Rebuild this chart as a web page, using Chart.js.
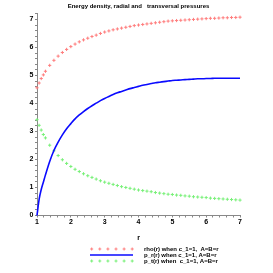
<!DOCTYPE html>
<html><head><meta charset="utf-8">
<script src="https://cdn.jsdelivr.net/npm/chart.js@4"></script>
<style>html,body{margin:0;padding:0;background:#fff}#wrap{width:273px;height:273px;position:relative}</style>
</head><body><div id="wrap"><canvas id="c" width="273" height="273"></canvas></div>
<script>
const rValues = [1.0,1.0625,1.125,1.1875,1.25,1.375,1.5,1.625,1.75,1.875,2.0,2.125,2.25,2.375,2.5,2.625,2.75,2.875,3.0,3.125,3.25,3.375,3.5,3.625,3.75,3.875,4.0,4.125,4.25,4.375,4.5,4.625,4.75,4.875,5.0,5.125,5.25,5.375,5.5,5.625,5.75,5.875,6.0,6.125,6.25,6.375,6.5,6.625,6.75,6.875,7.0];
const rhoValues = [4.56,4.73,4.89,5.02,5.15,5.36,5.54,5.69,5.82,5.93,6.03,6.12,6.2,6.27,6.33,6.39,6.44,6.5,6.55,6.59,6.63,6.66,6.69,6.72,6.75,6.78,6.8,6.82,6.84,6.86,6.88,6.9,6.92,6.94,6.95,6.96,6.97,6.98,6.99,7.0,7.01,7.02,7.03,7.04,7.04,7.05,7.06,7.06,7.07,7.07,7.08];
const prValues = [0,0.58,0.93,1.19,1.45,1.93,2.32,2.62,2.88,3.1,3.28,3.45,3.59,3.71,3.82,3.92,4.01,4.1,4.18,4.25,4.32,4.38,4.43,4.48,4.53,4.57,4.61,4.65,4.68,4.71,4.74,4.76,4.78,4.8,4.82,4.83,4.84,4.85,4.86,4.87,4.88,4.88,4.89,4.89,4.9,4.9,4.9,4.9,4.9,4.9,4.9];
const ptValues = [3.42,3.22,3.05,2.89,2.77,2.51,2.31,2.14,1.99,1.86,1.75,1.65,1.57,1.49,1.42,1.36,1.3,1.24,1.19,1.15,1.11,1.07,1.03,1.0,0.97,0.94,0.91,0.89,0.87,0.85,0.82,0.8,0.78,0.76,0.75,0.73,0.72,0.7,0.69,0.67,0.66,0.65,0.64,0.62,0.61,0.6,0.59,0.58,0.57,0.56,0.55];
const seriesLabels = ["rho(r) when c_1=1,  A=B=r", "p_r(r) when c_1=1, A=B=r", "p_t(r) when  c_1=1, A=B=r"];
const xTickLabels = [1,2,3,4,5,6,7];
const yTickLabels = [0,1,2,3,4,5,6,7];
const titleText = "Energy density, radial and   transversal pressures";
const xAxisTitle = "r";

const RED = 'rgb(255,125,125)';
const BLUE = 'rgb(10,10,255)';
const GREEN = 'rgb(120,240,120)';
const FONT = "'Liberation Sans Narrow','Arial Narrow','Liberation Sans',Arial,sans-serif";

function toXY(ys){ return rValues.map((r,i)=>({x:r,y:ys[i]})); }
function minorTicks(lo,hi){ const t=[]; for(let k=0;lo+k*0.2<=hi+1e-9;k++){ t.push({value:+(lo+k*0.2).toFixed(4)}); } return t; }
function intLabel(list){ return function(v){ const n=Math.round(v); return (Math.abs(v-n)<1e-6 && list.includes(n)) ? String(n) : ''; }; }

const legendPlugin = {
  id:'mapleLegend',
  afterDraw(chart){
    const ctx = chart.ctx;
    const ds = chart.data.datasets;
    const x0 = 90, x1 = 133, tx = 144;
    ctx.save();
    ds.forEach((d,i)=>{
      const y = 249 + 6*i;
      if (d.showLine) {
        ctx.strokeStyle = d.borderColor; ctx.lineWidth = 1.6;
        ctx.beginPath(); ctx.moveTo(x0,y); ctx.lineTo(x1,y); ctx.stroke();
      } else {
        ctx.strokeStyle = d.borderColor; ctx.lineWidth = 1;
        for (let k=0;k<6;k++){
          const cx = 91.7 + 8.1*k;
          ctx.beginPath(); ctx.moveTo(cx-1.5,y); ctx.lineTo(cx+1.5,y); ctx.moveTo(cx,y-1.5); ctx.lineTo(cx,y+1.5); ctx.stroke();
        }
      }
      ctx.fillStyle = '#000'; ctx.font = "bold 6px " + FONT; ctx.textBaseline = 'middle'; ctx.textAlign='left';
      ctx.fillText(d.label, tx, y);
    });
    ctx.restore();
  }
};

new Chart(document.getElementById('c'), {
  type:'scatter',
  data:{ datasets:[
    { label:seriesLabels[0], data:toXY(rhoValues), showLine:false, pointStyle:'cross', pointRadius:1.6, borderWidth:1, borderColor:RED, backgroundColor:RED, clip:5 },
    { label:seriesLabels[1], data:toXY(prValues), showLine:true, pointRadius:0, borderWidth:1.6, borderColor:BLUE, backgroundColor:BLUE, cubicInterpolationMode:'monotone', clip:5 },
    { label:seriesLabels[2], data:toXY(ptValues), showLine:false, pointStyle:'cross', pointRadius:1.6, borderWidth:1, borderColor:GREEN, backgroundColor:GREEN, clip:5 }
  ]},
  options:{
    responsive:false, animation:false, devicePixelRatio:1,
    layout:{ padding:{ top:0, left:0, right:33, bottom:0 } },
    plugins:{
      legend:{ display:false },
      tooltip:{ enabled:false },
      title:{ display:true, text:titleText, fullSize:false, color:'#000', font:{ family:FONT, size:6, weight:'bold', lineHeight:1 }, padding:{ top:3, bottom:4 } }
    },
    scales:{
      x:{ type:'linear', min:1, max:7,
        afterBuildTicks(s){ s.ticks = minorTicks(1,7); },
        afterFit(s){ s.height = 57.5; },
        ticks:{ autoSkip:false, maxRotation:0, padding:0, color:'#000', font:{ family:"'Liberation Sans',Arial,sans-serif", size:7, weight:'bold' }, callback:intLabel(xTickLabels) },
        grid:{ display:true, drawOnChartArea:false, drawTicks:true, tickLength:2, tickColor:'#888' },
        border:{ display:true, color:'#888', width:1 },
        title:{ display:true, text:xAxisTitle, color:'#000', font:{ family:"'Liberation Sans',Arial,sans-serif", size:7, weight:'bold', lineHeight:1 }, padding:{ top:0, bottom:31.5 } }
      },
      y:{ type:'linear', min:0, max:7.23,
        afterBuildTicks(s){ s.ticks = minorTicks(0,7.2); },
        afterFit(s){ s.width = 37; },
        ticks:{ autoSkip:false, padding:1.5, color:'#000', font:{ family:"'Liberation Sans',Arial,sans-serif", size:7, weight:'bold' }, callback:intLabel(yTickLabels) },
        grid:{ display:true, drawOnChartArea:false, drawTicks:true, tickLength:2, tickColor:'#888' },
        border:{ display:true, color:'#888', width:1 }
      }
    }
  },
  plugins:[legendPlugin]
});
</script></body></html>
